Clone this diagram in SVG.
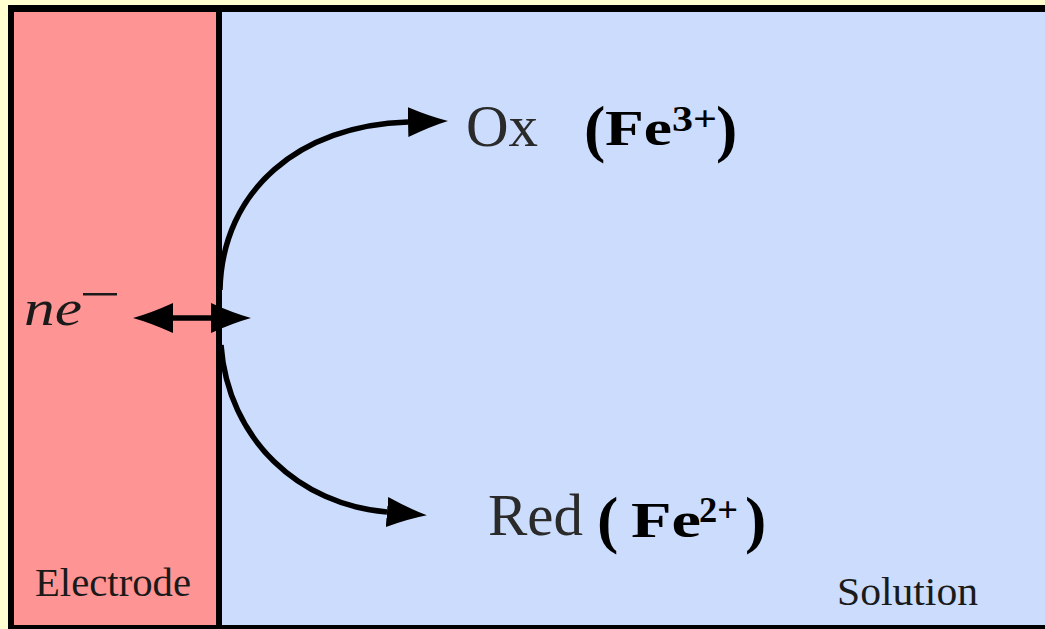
<svg xmlns="http://www.w3.org/2000/svg" width="1045" height="629" viewBox="0 0 1045 629">
<style>
text{font-family:"Liberation Serif","Times New Roman",serif}
.lbl{font-size:40px;fill:#1a1a1a}
.sp{font-size:59px;fill:#2a2a2a}
.b{font-weight:bold;fill:#000}
.conn{fill:none;stroke:#000;stroke-width:5.5}
</style>
<defs>
<marker id="ah" viewBox="0 -16 41 32" markerWidth="41" markerHeight="32" refX="0" refY="0" orient="auto-start-reverse" markerUnits="userSpaceOnUse">
<path d="M0,-15 Q22,-5 40,0 Q22,5 0,15 Z" fill="#000"/>
</marker>
</defs>
<rect x="0" y="0" width="1045" height="629" fill="#FFFFD0"/>
<rect x="8" y="5" width="1037" height="624" fill="#000"/>
<g id="electrode">
<rect x="14" y="12" width="202" height="613" fill="#FF9494"/>
<text class="lbl" font-family="'Liberation Serif', serif" x="35" y="596" textLength="156" lengthAdjust="spacingAndGlyphs">Electrode</text>
</g>
<g id="solution">
<rect x="222" y="12" width="823" height="613" fill="#CBDCFD"/>
<text class="lbl" font-family="'Liberation Serif', serif" x="837" y="605" textLength="141" lengthAdjust="spacingAndGlyphs">Solution</text>
</g>
<g id="ne">
<text font-style="italic" font-size="50" fill="#1a1a1a" x="24" y="325" textLength="58" lengthAdjust="spacingAndGlyphs">ne</text>
<rect x="83" y="293" width="34" height="2.5" fill="#1a1a1a"/>
</g>
<g id="ox">
<text class="sp" x="466" y="146">Ox</text>
<text class="b" font-size="64" x="584" y="150">(</text>
<text class="b" font-size="50" x="605" y="145" textLength="67" lengthAdjust="spacingAndGlyphs">Fe</text>
<text class="b" font-size="36" x="672" y="131" textLength="45" lengthAdjust="spacingAndGlyphs">3+</text>
<text class="b" font-size="64" x="716" y="150">)</text>
</g>
<g id="red">
<text class="sp" x="488" y="535">Red</text>
<text class="b" font-size="64" x="597" y="541">(</text>
<text class="b" font-size="50" x="631" y="537" textLength="70" lengthAdjust="spacingAndGlyphs">Fe</text>
<text class="b" font-size="36" x="699" y="522" textLength="39" lengthAdjust="spacingAndGlyphs">2+</text>
<text class="b" font-size="64" x="745" y="541">)</text>
</g>
<g id="connectors">
<path class="conn" d="M173,318 L211,318" marker-start="url(#ah)" marker-end="url(#ah)"/>
<path class="conn" d="M220,290 C222,190 300,125 408,122" marker-end="url(#ah)"/>
<path class="conn" d="M221,345 C228,440 300,505 387,512" marker-end="url(#ah)"/>
</g>
</svg>
